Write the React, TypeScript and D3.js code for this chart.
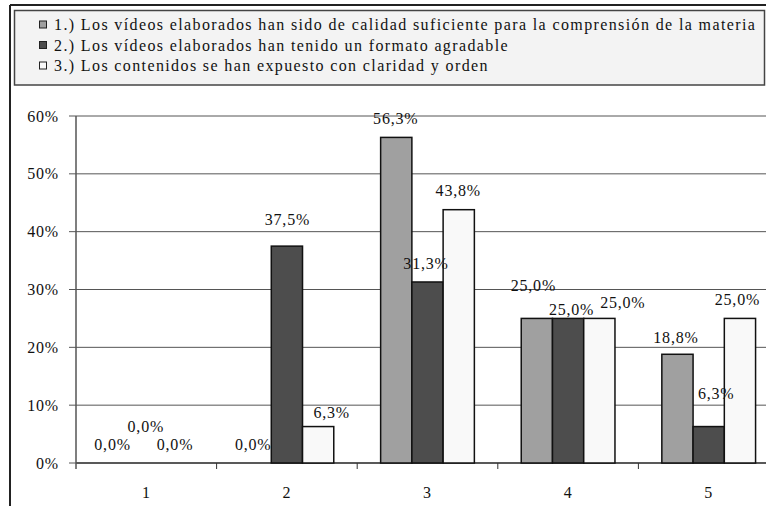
import React from "react";
import * as d3 from "d3";

const categories = ["1", "2", "3", "4", "5"];
const seriesNames = [
  "1.) Los vídeos elaborados han sido de calidad suficiente para la comprensión de la materia",
  "2.) Los vídeos elaborados han tenido un formato agradable",
  "3.) Los contenidos se han expuesto con claridad y orden",
];
const series1 = [0.0, 0.0, 56.3, 25.0, 18.8];
const series2 = [0.0, 37.5, 31.3, 25.0, 6.3];
const series3 = [0.0, 6.3, 43.8, 25.0, 25.0];
const yTicks = [0, 10, 20, 30, 40, 50, 60];

const seriesColors = ["#a0a0a0", "#4d4d4d", "#f9f9f9"];
// label nudges (dx, dy) per series per category, mimicking hand-placed labels
const labelNudges: [number, number][][] = [
  [[-1, 0], [-1, 0], [1, 0], [-2, -14], [0, 2]],
  [[1, -18], [2, -8], [0, 0], [5, 10], [9, -14]],
  [[-1, 0], [15, 5], [1, 0], [25, 3], [-1, 0]],
];

const W = 766;
const H = 506;
const FONT = "Liberation Serif, Tinos, Times New Roman, DejaVu Serif, serif";
const txt: React.CSSProperties = { fontFamily: FONT, fontSize: "16px", letterSpacing: "0.8px" };
const legendTxt: React.CSSProperties = { fontFamily: FONT, fontSize: "16px", letterSpacing: "1.38px" };

const esLocale = d3.formatLocale({
  decimal: ",",
  thousands: ".",
  grouping: [3],
  currency: ["", " €"],
});
const fmt = (v: number) => esLocale.format(".1f")(v) + "%";

export default function App() {
  const data = [series1, series2, series3];
  const plotLeft = 76;
  const plotRight = 779;
  const plotTop = 116;
  const plotBottom = 463;

  const x = d3.scaleBand<string>().domain(categories).range([plotLeft, plotRight]).paddingInner(0).paddingOuter(0);
  const xs = d3
    .scaleBand<number>()
    .domain([0, 1, 2])
    .range([0, x.bandwidth()])
    .paddingInner(0)
    .paddingOuter(0.75);
  const y = d3.scaleLinear().domain([0, 60]).range([plotBottom, plotTop]);

  const boundaries = categories.map((c) => x(c)!).concat([plotRight]);

  return (
    <svg
      width={W}
      height={H}
      style={{ position: "absolute", left: 0, top: 0, background: "#fff", fontFamily: FONT }}
    >
      {/* outer frame */}
      <line x1={10} y1={5} x2={W} y2={5} stroke="#222" strokeWidth={2} />
      <line x1={10} y1={5} x2={10} y2={H} stroke="#222" strokeWidth={2} />

      {/* legend */}
      <rect x={14.5} y={10.5} width={750} height={74.5} fill="#f3f3f3" stroke="#444" strokeWidth={1.5} />
      {seriesNames.map((name, i) => {
        const cy = 24.5 + i * 20.5;
        return (
          <g key={name}>
            <rect x={39.5} y={cy - 3.5} width={7} height={7} fill={seriesColors[i]} stroke="#222" strokeWidth={1} />
            <text x={54} y={cy} dy="0.35em" style={legendTxt} fill="#111">
              {name}
            </text>
          </g>
        );
      })}

      {/* gridlines */}
      {yTicks.map((t) => (
        <line
          key={"g" + t}
          x1={plotLeft}
          x2={plotRight}
          y1={y(t)}
          y2={y(t)}
          stroke={t === 0 ? "#222" : "#555"}
          strokeWidth={t === 0 ? 1.5 : 1}
        />
      ))}
      {/* y axis */}
      <line x1={plotLeft} x2={plotLeft} y1={plotTop} y2={plotBottom + 6} stroke="#555" strokeWidth={1.5} />
      {yTicks.map((t) => (
        <g key={"yt" + t}>
          <line x1={plotLeft - 7} x2={plotLeft} y1={y(t)} y2={y(t)} stroke="#555" strokeWidth={1} />
          <text x={59} y={y(t)} dy="0.35em" textAnchor="end" style={txt} fill="#111">
            {t + "%"}
          </text>
        </g>
      ))}
      {/* x ticks */}
      {boundaries.slice(1).map((b, i) => (
        <line key={"xt" + i} x1={b} x2={b} y1={plotBottom} y2={plotBottom + 6} stroke="#333" strokeWidth={1} />
      ))}
      {categories.map((c) => (
        <text key={"xl" + c} x={x(c)! + x.bandwidth() / 2} y={492} dy="0.35em" textAnchor="middle" style={txt} fill="#111">
          {c}
        </text>
      ))}

      {/* bars */}
      {data.map((vals, si) =>
        vals.map((v, ci) => {
          const bx = x(categories[ci])! + xs(si)!;
          const by = y(v);
          const h = plotBottom - by;
          return h > 0 ? (
            <rect
              key={`b${si}-${ci}`}
              x={bx}
              y={by}
              width={xs.bandwidth()}
              height={h}
              fill={seriesColors[si]}
              stroke="#111"
              strokeWidth={1.5}
            />
          ) : null;
        })
      )}

      {/* labels */}
      {data.map((vals, si) =>
        vals.map((v, ci) => {
          const cx = x(categories[ci])! + xs(si)! + xs.bandwidth() / 2;
          const [dx, dy] = labelNudges[si][ci];
          return (
            <text
              key={`l${si}-${ci}`}
              x={cx - 1.5 + dx}
              y={y(v) - 19 + dy}
              dy="0.35em"
              textAnchor="middle"
              style={txt}
              fill="#111"
            >
              {fmt(v)}
            </text>
          );
        })
      )}
    </svg>
  );
}
